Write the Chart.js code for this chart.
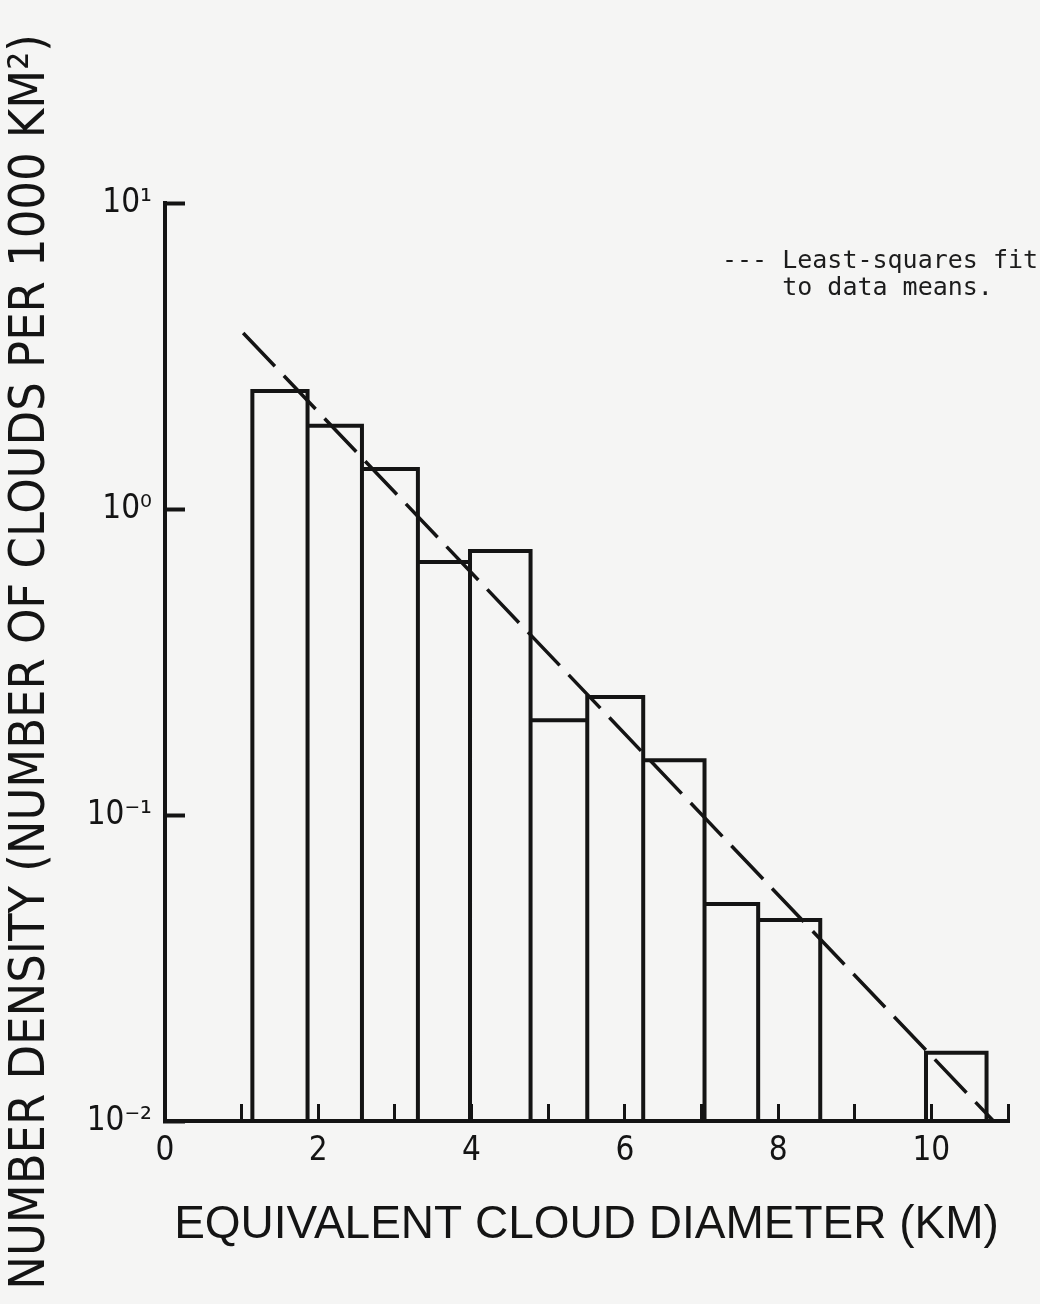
<!DOCTYPE html>
<html><head><meta charset="utf-8">
<script src="https://cdn.jsdelivr.net/npm/chart.js@4"></script>
<style>
html,body{margin:0;padding:0;background:#f5f5f4;}
#wrap{position:relative;width:1040px;height:1304px;}
</style></head>
<body><div id="wrap"><canvas id="c" width="1040" height="1304"></canvas></div>
<script>
// ---- data ----
const binLeft  = [1.14, 1.86, 2.57, 3.30, 3.98, 4.77, 5.51, 6.24, 7.04, 7.74, 9.93];
const binRight = [1.86, 2.57, 3.30, 3.98, 4.77, 5.51, 6.24, 7.04, 7.74, 8.55, 10.72];
const density  = [2.43, 1.87, 1.35, 0.671, 0.729, 0.204, 0.243, 0.151, 0.0512, 0.0454, 0.0167];
const fitX = [1.02, 10.81];
const fitY = [3.76, 0.01];
const xTickValues = [0, 1, 2, 3, 4, 5, 6, 7, 8, 9, 10, 11];
const xTickLabels = ["0", "", "2", "", "4", "", "6", "", "8", "", "10", ""];
const yTickValues = [0.01, 0.1, 1, 10];
const yTickLabels = ["10\u207B\u00B2", "10\u207B\u00B9", "10\u2070", "10\u00B9"];
const xTitle = "EQUIVALENT CLOUD DIAMETER (KM)";
const yTitle = "NUMBER DENSITY (NUMBER OF CLOUDS PER 1000 KM\u00B2)";
const legendLines = ["--- Least-squares fit", "to data means."];

const INK = '#141414';
const NARROW = "'DejaVu Sans Condensed', 'Liberation Sans', sans-serif";

// histogram outline built from the bins
const yBase = yTickValues[0];
const histPts = [];
binLeft.forEach((l, i) => {
  const r = binRight[i], v = density[i];
  histPts.push({x: l, y: yBase}, {x: l, y: v}, {x: r, y: v}, {x: r, y: yBase}, {x: r, y: null});
});
const fitPts = fitX.map((x, i) => ({x, y: fitY[i]}));

const legendText = {
  id: 'legendText',
  afterDraw(chart) {
    const c = chart.ctx;
    c.save();
    c.font = "25px 'DejaVu Sans Mono', monospace";
    c.fillStyle = '#1c1c1c';
    c.textBaseline = 'alphabetic';
    c.fillText(legendLines[0], 722, 268);
    const indent = c.measureText('--- ').width;
    c.fillText(legendLines[1], 722 + indent, 295);
    c.restore();
  }
};

new Chart(document.getElementById('c'), {
  type: 'line',
  data: {
    datasets: [
      { label: 'Histogram', data: histPts, borderColor: INK, borderWidth: 4, pointRadius: 0,
        fill: false, spanGaps: false, tension: 0, borderJoinStyle: 'miter', borderCapStyle: 'square' },
      { label: 'Least-squares fit to data means.', data: fitPts, borderColor: INK, borderWidth: 3.5,
        borderDash: [46, 13], pointRadius: 0, fill: false, tension: 0 }
    ]
  },
  options: {
    responsive: false,
    animation: false,
    layout: { padding: { top: 203, right: 32, bottom: 0, left: 0 } },
    plugins: { legend: { display: false }, tooltip: { enabled: false } },
    scales: {
      x: {
        type: 'linear', min: xTickValues[0], max: xTickValues[xTickValues.length - 1],
        afterBuildTicks: s => { s.ticks = xTickValues.map(v => ({ value: v })); },
        afterFit: s => { s.height = 183; },
        grid: { drawOnChartArea: false, drawTicks: true, tickLength: -17, tickWidth: 3, tickColor: INK },
        border: { display: true, color: INK, width: 4 },
        ticks: {
          color: INK, padding: 28, maxRotation: 0, autoSkip: false,
          font: { family: NARROW, size: 33 },
          callback: v => { const i = xTickValues.indexOf(v); return i >= 0 ? xTickLabels[i] : ''; }
        },
        title: { display: true, text: xTitle, color: INK,
          font: { family: "'Liberation Sans', sans-serif", size: 46, lineHeight: 1.2 },
          padding: { top: 0, bottom: 51 } }
      },
      y: {
        type: 'logarithmic', min: yTickValues[0], max: yTickValues[yTickValues.length - 1],
        afterBuildTicks: s => { s.ticks = yTickValues.map(v => ({ value: v })); },
        afterFit: s => { s.width = 165; },
        grid: { drawOnChartArea: false, drawTicks: true, tickLength: -20, tickWidth: 4, tickColor: INK },
        border: { display: true, color: INK, width: 4 },
        ticks: {
          color: INK, padding: 33, autoSkip: false,
          font: { family: NARROW, size: 33 },
          callback: v => { const i = yTickValues.indexOf(v); return i >= 0 ? yTickLabels[i] : ''; }
        },
        title: { display: true, text: yTitle, color: INK,
          font: { family: NARROW, size: 50, lineHeight: 1 },
          padding: { top: 6, bottom: 0 } }
      }
    }
  },
  plugins: [legendText]
});
</script>
</body></html>
